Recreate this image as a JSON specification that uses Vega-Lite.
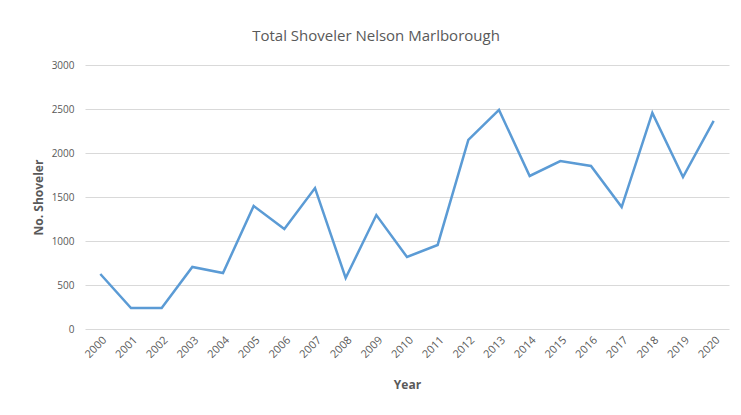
{
  "$schema": "https://vega.github.io/schema/vega-lite/v6.json",
  "width": 644,
  "height": 264,
  "autosize": "none",
  "padding": {"left": 85, "top": 65, "right": 12, "bottom": 86},
  "background": "white",
  "title": {
    "text": "Total Shoveler Nelson Marlborough",
    "font": "Open Sans",
    "fontSize": 15,
    "fontWeight": "normal",
    "color": "#595959",
    "anchor": "middle",
    "dx": -31,
    "offset": 16
  },
  "data": {
    "values": [
      {"Year": "2000", "Count": 625},
      {"Year": "2001", "Count": 239},
      {"Year": "2002", "Count": 239},
      {"Year": "2003", "Count": 705},
      {"Year": "2004", "Count": 636},
      {"Year": "2005", "Count": 1398},
      {"Year": "2006", "Count": 1136},
      {"Year": "2007", "Count": 1602},
      {"Year": "2008", "Count": 580},
      {"Year": "2009", "Count": 1295},
      {"Year": "2010", "Count": 818},
      {"Year": "2011", "Count": 955},
      {"Year": "2012", "Count": 2148},
      {"Year": "2013", "Count": 2489},
      {"Year": "2014", "Count": 1739},
      {"Year": "2015", "Count": 1909},
      {"Year": "2016", "Count": 1852},
      {"Year": "2017", "Count": 1386},
      {"Year": "2018", "Count": 2455},
      {"Year": "2019", "Count": 1727},
      {"Year": "2020", "Count": 2364}
    ]
  },
  "mark": {"type": "line", "color": "#5b9bd5", "strokeWidth": 2.5},
  "encoding": {
    "x": {
      "field": "Year",
      "type": "ordinal",
      "scale": {"type": "point", "padding": 0.5},
      "axis": {
        "title": "Year",
        "titleFont": "Open Sans",
        "titleFontSize": 12,
        "titleFontWeight": "bold",
        "titleColor": "#595959",
        "titlePadding": 20,
        "labelAngle": -45,
        "labelFont": "Open Sans",
        "labelFontSize": 11,
        "labelColor": "#595959",
        "labelPadding": 5,
        "ticks": false,
        "domain": false,
        "grid": false
      }
    },
    "y": {
      "field": "Count",
      "type": "quantitative",
      "scale": {"domain": [0, 3000]},
      "axis": {
        "title": "No. Shoveler",
        "titleFont": "Open Sans",
        "titleFontSize": 12,
        "titleFontWeight": "bold",
        "titleColor": "#595959",
        "titlePadding": 6,
        "format": "d",
        "values": [0, 500, 1000, 1500, 2000, 2500, 3000],
        "labelFont": "Open Sans",
        "labelFontSize": 10,
        "labelColor": "#595959",
        "labelPadding": 11,
        "ticks": false,
        "domain": false,
        "gridColor": "#d9d9d9",
        "gridWidth": 1
      }
    }
  },
  "config": {"view": {"stroke": null}}
}
